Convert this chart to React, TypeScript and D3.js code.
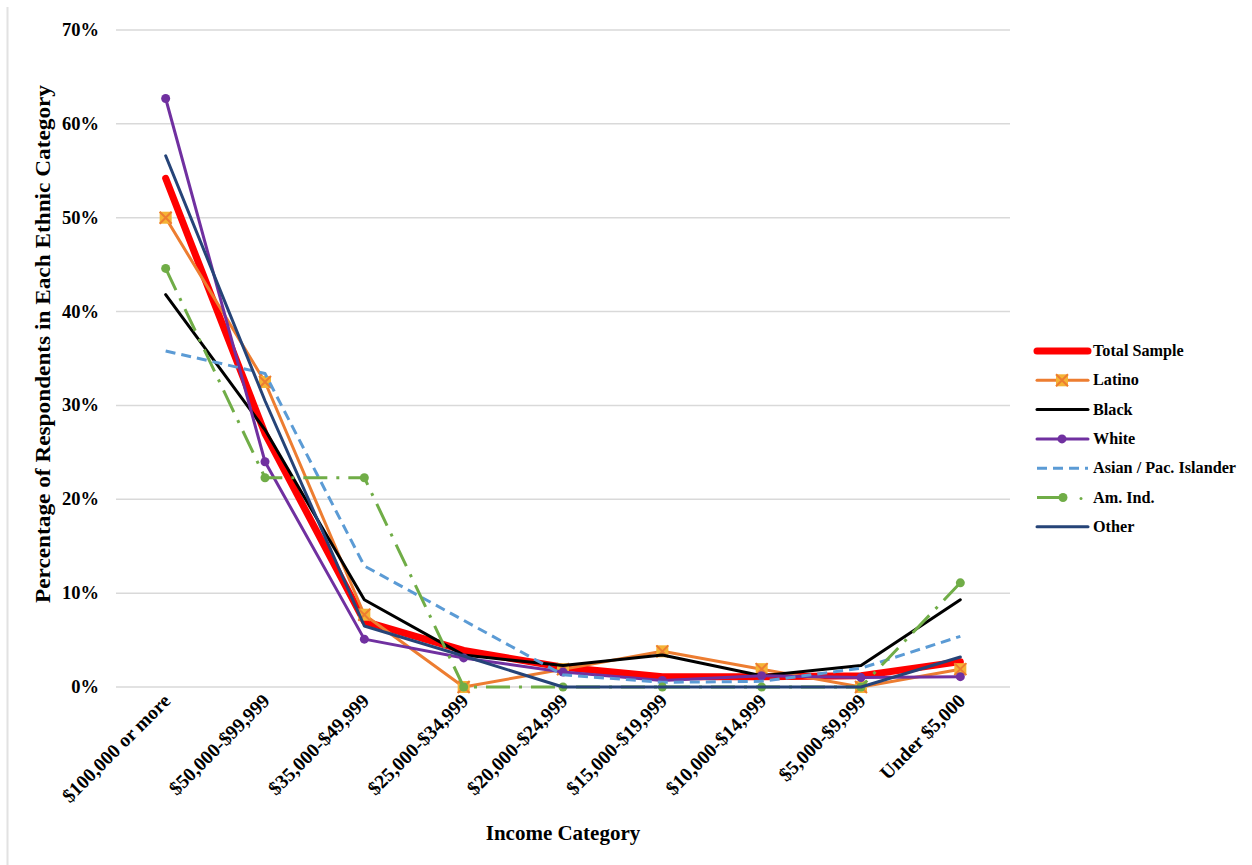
import React from "react";
import * as d3 from "d3";

// Income brackets along the x axis (highest to lowest)
const categories: string[] = [
  "$100,000 or more",
  "$50,000-$99,999",
  "$35,000-$49,999",
  "$25,000-$34,999",
  "$20,000-$24,999",
  "$15,000-$19,999",
  "$10,000-$14,999",
  "$5,000-$9,999",
  "Under $5,000",
];

// Percent of respondents in each ethnic group per income bracket
const totalSample: number[] = [54.2, 27.0, 7.0, 3.9, 2.1, 1.1, 1.1, 1.2, 2.7];
const latino: number[] = [50.0, 32.5, 7.7, 0.0, 1.9, 3.8, 1.9, 0.0, 1.9];
const black: number[] = [41.8, 27.4, 9.3, 3.4, 2.3, 3.4, 1.2, 2.3, 9.3];
const white: number[] = [62.7, 24.0, 5.1, 3.1, 1.6, 0.7, 1.2, 1.0, 1.1];
const asianPacIslander: number[] = [35.8, 33.4, 12.9, 7.1, 1.3, 0.5, 0.6, 2.0, 5.4];
const amInd: number[] = [44.6, 22.3, 22.3, 0.0, 0.0, 0.0, 0.0, 0.0, 11.1];
const other: number[] = [56.6, 30.5, 6.5, 3.3, 0.0, 0.0, 0.0, 0.0, 3.2];

const yTicks: number[] = [0, 10, 20, 30, 40, 50, 60, 70];

type Marker = "none" | "xbox" | "dot";
interface Series {
  name: string;
  values: number[];
  color: string;
  width: number;
  dash?: string;
  marker: Marker;
}

const series: Series[] = [
  { name: "Total Sample", values: totalSample, color: "#FF0000", width: 7, marker: "none" },
  { name: "Latino", values: latino, color: "#ED7D31", width: 3, marker: "xbox" },
  { name: "Black", values: black, color: "#000000", width: 3, marker: "none" },
  { name: "White", values: white, color: "#7030A0", width: 3, marker: "dot" },
  { name: "Asian / Pac. Islander", values: asianPacIslander, color: "#5B9BD5", width: 3, dash: "10 6", marker: "none" },
  { name: "Am. Ind.", values: amInd, color: "#70AD47", width: 3, dash: "24 9 3 9", marker: "dot" },
  { name: "Other", values: other, color: "#264478", width: 3, marker: "none" },
];

const W = 1252;
const H = 865;
const plot = { left: 116, right: 1010, top: 30, bottom: 687 };
const FONT = "'Liberation Serif', 'Times New Roman', serif";

function MarkerShape({ kind, x, y, color }: { kind: Marker; x: number; y: number; color: string }) {
  if (kind === "dot") return <circle cx={x} cy={y} r={4.5} fill={color} />;
  if (kind === "xbox") {
    const s = 6;
    return (
      <g>
        <rect x={x - s} y={y - s} width={2 * s} height={2 * s} fill="#F5B335" />
        <path d={`M${x - s},${y - s}L${x + s},${y + s}M${x + s},${y - s}L${x - s},${y + s}`} stroke={color} strokeWidth={2} />
      </g>
    );
  }
  return null;
}

export default function App() {
  const x = d3.scaleBand<string>().domain(categories).range([plot.left, plot.right]);
  const cx = (c: string) => (x(c) as number) + x.bandwidth() / 2;
  const y = d3.scaleLinear().domain([0, 70]).range([plot.bottom, plot.top]);
  const line = d3
    .line<number>()
    .x((_, i) => cx(categories[i]))
    .y((v) => y(v));

  const legendX = 1037;
  const legendY0 = 351;
  const legendStep = 29.3;

  return (
    <svg width={W} height={H} style={{ position: "absolute", left: 0, top: 0, background: "#fff" }}>
      <line x1={7.5} x2={7.5} y1={7} y2={H} stroke="#e2e2e2" strokeWidth={2} />

      {/* horizontal gridlines and percent labels */}
      {yTicks.map((t) => (
        <g key={t}>
          <line x1={plot.left} x2={plot.right} y1={y(t)} y2={y(t)} stroke="#d9d9d9" strokeWidth={1.5} />
          <text x={99} y={y(t) + 6} textAnchor="end" fontFamily={FONT} fontWeight="bold" fontSize={18.5}>
            {`${t}%`}
          </text>
        </g>
      ))}

      {/* series lines */}
      {series.map((s) => (
        <g key={s.name}>
          <path
            d={line(s.values) || ""}
            fill="none"
            stroke={s.color}
            strokeWidth={s.width}
            strokeDasharray={s.dash}
            strokeLinejoin="round"
            strokeLinecap={s.dash ? "butt" : "round"}
          />
          {s.marker !== "none" &&
            s.values.map((v, i) => (
              <MarkerShape key={i} kind={s.marker} x={cx(categories[i])} y={y(v)} color={s.color} />
            ))}
        </g>
      ))}

      {/* category labels */}
      {categories.map((c) => (
        <text
          key={c}
          transform={`translate(${cx(c) + 6},${plot.bottom + 15}) rotate(-45)`}
          textAnchor="end"
          fontFamily={FONT}
          fontWeight="bold"
          fontSize={19.5}
        >
          {c}
        </text>
      ))}

      {/* axis titles */}
      <text x={563} y={840} textAnchor="middle" fontFamily={FONT} fontWeight="bold" fontSize={21}>
        Income Category
      </text>
      <text
        transform={`translate(50,344) rotate(-90)`}
        textAnchor="middle"
        fontFamily={FONT}
        fontWeight="bold"
        fontSize={22}
        textLength={518}
        lengthAdjust="spacingAndGlyphs"
      >
        Percentage of Respondents in Each Ethnic Category
      </text>

      {/* legend */}
      {series.map((s, i) => {
        const ly = legendY0 + i * legendStep;
        const isAm = s.name === "Am. Ind.";
        return (
          <g key={s.name}>
            {isAm ? (
              <g>
                <line x1={legendX} x2={legendX + 26} y1={ly} y2={ly} stroke={s.color} strokeWidth={3} />
                <circle cx={legendX + 26} cy={ly} r={4.5} fill={s.color} />
                <circle cx={legendX + 44} cy={ly + 1} r={1.5} fill={s.color} />
              </g>
            ) : (
              <g>
                <line
                  x1={legendX}
                  x2={legendX + 51}
                  y1={ly}
                  y2={ly}
                  stroke={s.color}
                  strokeWidth={s.width}
                  strokeDasharray={s.dash}
                  strokeLinecap={s.dash ? "butt" : "round"}
                />
                {s.marker !== "none" && (
                  <MarkerShape kind={s.marker} x={legendX + 25} y={ly} color={s.color} />
                )}
              </g>
            )}
            <text x={legendX + 56} y={ly + 5} fontFamily={FONT} fontWeight="bold" fontSize={16.2}>
              {s.name}
            </text>
          </g>
        );
      })}
    </svg>
  );
}
